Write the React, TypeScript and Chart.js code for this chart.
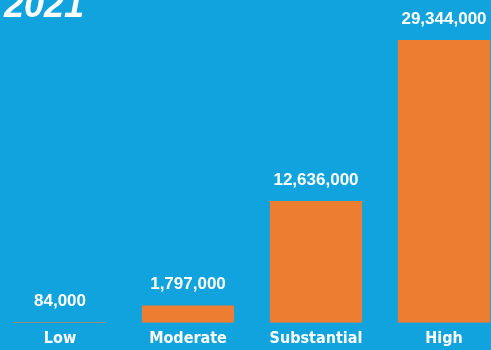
import React, { useEffect, useRef } from "react";
import { Chart, registerables } from "chart.js";

Chart.register(...registerables);

const categories: string[] = ["Low", "Moderate", "Substantial", "High"];
const values: number[] = [84000, 1797000, 12636000, 29344000];
const yearLabel = "2021";

const BG = "#11a3dd";
const BAR = "#ed7d31";
const NARROW = '"DejaVu Sans", sans-serif';
const SANS = '"Liberation Sans", Arial, sans-serif';

export default function App() {
  const ref = useRef<HTMLCanvasElement | null>(null);

  useEffect(() => {
    const canvas = ref.current;
    if (!canvas) return;

    const valueLabels = {
      id: "valueLabels",
      afterDatasetsDraw(chart: any) {
        const ctx = chart.ctx;
        const meta = chart.getDatasetMeta(0);
        ctx.save();
        ctx.fillStyle = "#ffffff";
        ctx.font = `bold 17px ${SANS}`;
        ctx.textAlign = "center";
        ctx.textBaseline = "alphabetic";
        meta.data.forEach((el: any, i: number) => {
          const v = chart.data.datasets[0].data[i] as number;
          ctx.fillText(v.toLocaleString("en-US"), el.x, el.y - 16);
        });
        ctx.restore();
      },
    };

    const yearTitle = {
      id: "yearTitle",
      afterDraw(chart: any) {
        const ctx = chart.ctx;
        ctx.save();
        ctx.fillStyle = "#ffffff";
        ctx.font = `italic bold 36px ${SANS}`;
        ctx.textAlign = "left";
        ctx.textBaseline = "alphabetic";
        ctx.fillText(yearLabel, 8, 17);
        ctx.restore();
      },
    };

    const chart = new Chart(canvas, {
      type: "bar",
      data: {
        labels: categories,
        datasets: [
          {
            data: values,
            backgroundColor: BAR,
            borderWidth: 0,
            categoryPercentage: 1,
            barPercentage: 0.72,
          },
        ],
      },
      options: {
        responsive: false,
        maintainAspectRatio: false,
        animation: false,
        layout: { padding: { top: 40, bottom: 1, left: 0, right: 0 } },
        plugins: {
          legend: { display: false },
          tooltip: { enabled: false },
          title: { display: false },
        },
        scales: {
          x: {
            grid: { display: false, drawTicks: false },
            border: { display: false },
            ticks: {
              color: "#ffffff",
              padding: 6,
              font: { family: NARROW, size: 16, weight: "bold condensed" as any },
              maxRotation: 0,
              autoSkip: false,
            },
          },
          y: {
            display: false,
            min: 0,
            max: 29344000,
          },
        },
      },
      plugins: [valueLabels, yearTitle],
    });

    return () => chart.destroy();
  }, []);

  return (
    <div
      style={{
        position: "fixed",
        left: 0,
        top: 0,
        width: 491,
        height: 350,
        overflow: "hidden",
        background: BG,
      }}
    >
      <canvas
        ref={ref}
        width={512}
        height={355}
        style={{ position: "absolute", left: -4, top: 0, width: 512, height: 355 }}
      />
    </div>
  );
}
